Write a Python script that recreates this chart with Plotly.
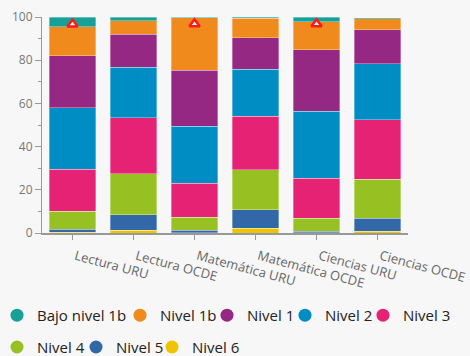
import plotly.graph_objects as go

categories = ["Lectura URU", "Lectura OCDE", "Matemática URU", "Matemática OCDE", "Ciencias URU", "Ciencias OCDE"]

# stacked from bottom (Nivel 6) to top (Bajo nivel 1b)
nivel_6 = [0.3, 1.2, 0.2, 2.2, 0.1, 0.8]
nivel_5 = [1.5, 7.2, 1.0, 8.6, 0.7, 6.1]
nivel_4 = [8.3, 19.1, 6.2, 18.4, 6.1, 18.0]
nivel_3 = [19.5, 25.8, 15.6, 24.9, 18.4, 27.6]
nivel_2 = [28.3, 23.5, 26.5, 21.6, 31.1, 25.8]
nivel_1 = [24.1, 15.2, 25.8, 14.6, 28.4, 15.7]
nivel_1b = [13.4, 6.3, 24.4, 9.1, 13.0, 5.1]
bajo_nivel_1b = [4.6, 1.7, 0.3, 0.6, 2.2, 0.5]

marker_cats = ["Lectura URU", "Matemática URU", "Ciencias URU"]
marker_vals = [96.6, 96.8, 96.8]

legend_labels = ["Bajo nivel 1b", "Nivel 1b", "Nivel 1", "Nivel 2", "Nivel 3",
                 "Nivel 4", "Nivel 5", "Nivel 6"]
colors = {
    "Bajo nivel 1b": "#16a097", "Nivel 1b": "#f08a1c", "Nivel 1": "#952882",
    "Nivel 2": "#008dc4", "Nivel 3": "#e62274", "Nivel 4": "#97c123",
    "Nivel 5": "#3368a8", "Nivel 6": "#eec300",
}
series = [
    ("Nivel 6", nivel_6), ("Nivel 5", nivel_5), ("Nivel 4", nivel_4),
    ("Nivel 3", nivel_3), ("Nivel 2", nivel_2), ("Nivel 1", nivel_1),
    ("Nivel 1b", nivel_1b), ("Bajo nivel 1b", bajo_nivel_1b),
]

fig = go.Figure()
for name, vals in series:
    fig.add_trace(go.Bar(
        x=categories, y=vals, name=name, showlegend=False,
        marker=dict(color=colors[name], line=dict(color="rgba(255,255,255,0.55)", width=0.6)),
    ))

fig.add_trace(go.Scatter(
    x=marker_cats, y=marker_vals, mode="markers", showlegend=False,
    marker=dict(symbol="triangle-up", size=9, color="white",
                line=dict(color="#ff1a1a", width=2.5)),
))

# legend layout: one legend box per entry (pixel positions of circle centres)
L, R, T, B = 42, 62, 16.5, 122.7
W, H = 470, 356
pw, ph = W - L - R, H - T - B
legend_pos = [(23, 316), (146, 316), (233, 316), (311, 316), (389, 316),
              (23, 348), (102, 348), (178, 348)]

layout_legends = {}
for i, (name, (cx, cy)) in enumerate(zip(legend_labels, legend_pos)):
    key = "legend" if i == 0 else f"legend{i + 1}"
    fig.add_trace(go.Scatter(
        x=[None], y=[None], mode="markers", name=name, legend=key,
        marker=dict(symbol="circle", size=13, color=colors[name]),
    ))
    layout_legends[key] = dict(
        orientation="h", xanchor="left", yanchor="middle",
        x=(cx - 26 - L) / pw, y=(H - B - cy) / ph,
        font=dict(family="Open Sans", size=15, color="#222"),
        bgcolor="rgba(0,0,0,0)", borderwidth=0, itemclick=False,
    )

fig.update_layout(
    width=W, height=H,
    paper_bgcolor="#f7f7f7", plot_bgcolor="#f7f7f7",
    margin=dict(l=L, r=R, t=T, b=B, autoexpand=False),
    barmode="stack", bargap=0.245,
    font=dict(family="Open Sans"),
    xaxis=dict(
        showline=True, linecolor="#999", linewidth=2,
        ticks="outside", ticklen=5, tickcolor="#999", tickwidth=1,
        tickangle=15, tickfont=dict(size=13, color="#666"),
        ticklabelstandoff=4, ticklabelshift=3,
        showgrid=False, zeroline=False, range=[-0.5, 5.5],
    ),
    yaxis=dict(
        range=[0, 100], dtick=20, showline=True, linecolor="#999", linewidth=1,
        ticks="outside", ticklen=6, tickcolor="#999",
        minor=dict(dtick=10, ticks="outside", ticklen=3, tickcolor="#999"),
        tickfont=dict(size=12, color="#777"),
        showgrid=False, zeroline=False,
    ),
    **layout_legends,
)

fig.write_html(
    "out.html",
    config={"displayModeBar": False},
    post_script="document.body.style.margin='0';document.body.style.background='#f7f7f7';",
)
